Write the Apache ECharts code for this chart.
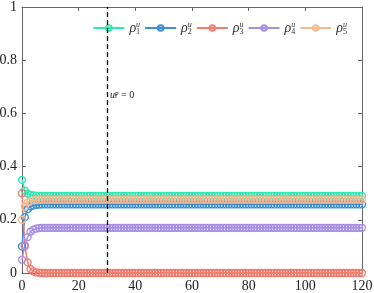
<!DOCTYPE html>
<html><head><meta charset="utf-8">
<script src="https://cdn.jsdelivr.net/npm/echarts@6/dist/echarts.min.js"></script>
<style>html,body{margin:0;padding:0;background:#fff}#c{width:374px;height:293px}</style>
</head><body><div id="c"></div>
<script>
const seriesNames = ['ρ1', 'ρ2', 'ρ3', 'ρ4', 'ρ5'];
const colors = ['#30e8b2', '#3a8fd8', '#f07d6e', '#a68fe4', '#f7b98e'];
const xTicks = [0, 20, 40, 60, 80, 100, 120];
const yTicks = [0, 0.2, 0.4, 0.6, 0.8, 1];
const switchStep = 30;

const rho1 = [
0.35,0.31,0.298,0.294,0.292,0.291,0.29,0.29,0.29,0.29,
0.29,0.29,0.29,0.29,0.29,0.29,0.29,0.29,0.29,0.29,
0.29,0.29,0.29,0.29,0.29,0.29,0.29,0.29,0.29,0.29,
0.29,0.29,0.29,0.29,0.29,0.29,0.29,0.29,0.29,0.29,
0.29,0.29,0.29,0.29,0.29,0.29,0.29,0.29,0.29,0.29,
0.29,0.29,0.29,0.29,0.29,0.29,0.29,0.29,0.29,0.29,
0.29,0.29,0.29,0.29,0.29,0.29,0.29,0.29,0.29,0.29,
0.29,0.29,0.29,0.29,0.29,0.29,0.29,0.29,0.29,0.29,
0.29,0.29,0.29,0.29,0.29,0.29,0.29,0.29,0.29,0.29,
0.29,0.29,0.29,0.29,0.29,0.29,0.29,0.29,0.29,0.29,
0.29,0.29,0.29,0.29,0.29,0.29,0.29,0.29,0.29,0.29,
0.29,0.29,0.29,0.29,0.29,0.29,0.29,0.29,0.29,0.29,
0.29];
const rho2 = [
0.10,0.21,0.24,0.25,0.254,0.256,0.257,0.258,0.258,0.258,
0.258,0.258,0.258,0.258,0.258,0.258,0.258,0.258,0.258,0.258,
0.258,0.258,0.258,0.258,0.258,0.258,0.258,0.258,0.258,0.258,
0.258,0.258,0.258,0.258,0.258,0.258,0.258,0.258,0.258,0.258,
0.258,0.258,0.258,0.258,0.258,0.258,0.258,0.258,0.258,0.258,
0.258,0.258,0.258,0.258,0.258,0.258,0.258,0.258,0.258,0.258,
0.258,0.258,0.258,0.258,0.258,0.258,0.258,0.258,0.258,0.258,
0.258,0.258,0.258,0.258,0.258,0.258,0.258,0.258,0.258,0.258,
0.258,0.258,0.258,0.258,0.258,0.258,0.258,0.258,0.258,0.258,
0.258,0.258,0.258,0.258,0.258,0.258,0.258,0.258,0.258,0.258,
0.258,0.258,0.258,0.258,0.258,0.258,0.258,0.258,0.258,0.258,
0.258,0.258,0.258,0.258,0.258,0.258,0.258,0.258,0.258,0.258,
0.258];
const rho3 = [
0.30,0.10,0.04,0.015,0.006,0.002,0.001,0,0,0,
0,0,0,0,0,0,0,0,0,0,
0,0,0,0,0,0,0,0,0,0,
0,0,0,0,0,0,0,0,0,0,
0,0,0,0,0,0,0,0,0,0,
0,0,0,0,0,0,0,0,0,0,
0,0,0,0,0,0,0,0,0,0,
0,0,0,0,0,0,0,0,0,0,
0,0,0,0,0,0,0,0,0,0,
0,0,0,0,0,0,0,0,0,0,
0,0,0,0,0,0,0,0,0,0,
0,0,0,0,0,0,0,0,0,0,
0];
const rho4 = [
0.05,0.105,0.135,0.155,0.163,0.167,0.169,0.17,0.17,0.17,
0.17,0.17,0.17,0.17,0.17,0.17,0.17,0.17,0.17,0.17,
0.17,0.17,0.17,0.17,0.17,0.17,0.17,0.17,0.17,0.17,
0.17,0.17,0.17,0.17,0.17,0.17,0.17,0.17,0.17,0.17,
0.17,0.17,0.17,0.17,0.17,0.17,0.17,0.17,0.17,0.17,
0.17,0.17,0.17,0.17,0.17,0.17,0.17,0.17,0.17,0.17,
0.17,0.17,0.17,0.17,0.17,0.17,0.17,0.17,0.17,0.17,
0.17,0.17,0.17,0.17,0.17,0.17,0.17,0.17,0.17,0.17,
0.17,0.17,0.17,0.17,0.17,0.17,0.17,0.17,0.17,0.17,
0.17,0.17,0.17,0.17,0.17,0.17,0.17,0.17,0.17,0.17,
0.17,0.17,0.17,0.17,0.17,0.17,0.17,0.17,0.17,0.17,
0.17,0.17,0.17,0.17,0.17,0.17,0.17,0.17,0.17,0.17,
0.17];
const rho5 = [
0.20,0.25,0.265,0.271,0.274,0.275,0.276,0.276,0.276,0.276,
0.276,0.276,0.276,0.276,0.276,0.276,0.276,0.276,0.276,0.276,
0.276,0.276,0.276,0.276,0.276,0.276,0.276,0.276,0.276,0.276,
0.276,0.276,0.276,0.276,0.276,0.276,0.276,0.276,0.276,0.276,
0.276,0.276,0.276,0.276,0.276,0.276,0.276,0.276,0.276,0.276,
0.276,0.276,0.276,0.276,0.276,0.276,0.276,0.276,0.276,0.276,
0.276,0.276,0.276,0.276,0.276,0.276,0.276,0.276,0.276,0.276,
0.276,0.276,0.276,0.276,0.276,0.276,0.276,0.276,0.276,0.276,
0.276,0.276,0.276,0.276,0.276,0.276,0.276,0.276,0.276,0.276,
0.276,0.276,0.276,0.276,0.276,0.276,0.276,0.276,0.276,0.276,
0.276,0.276,0.276,0.276,0.276,0.276,0.276,0.276,0.276,0.276,
0.276,0.276,0.276,0.276,0.276,0.276,0.276,0.276,0.276,0.276,
0.276];
const allData = [rho1, rho2, rho3, rho4, rho5];

const FONT = 'Liberation Serif';
const axisColor = '#666';
const chart = echarts.init(document.getElementById('c'), null, {renderer: 'canvas'});

function mkX(pos, labels) {
  return {
    type: 'value', position: pos, min: xTicks[0], max: xTicks[xTicks.length - 1],
    interval: xTicks[1] - xTicks[0],
    axisLine: {show: true, onZero: false, lineStyle: {color: axisColor, width: 1}},
    axisTick: {show: true, inside: true, length: 4, lineStyle: {color: axisColor}},
    axisLabel: {show: labels, margin: 6, fontFamily: FONT, fontSize: 14, color: '#222'},
    splitLine: {show: false}
  };
}
function mkY(pos, labels) {
  return {
    type: 'value', position: pos, min: yTicks[0], max: yTicks[yTicks.length - 1],
    interval: 0.2,
    axisLine: {show: true, onZero: false, lineStyle: {color: axisColor, width: 1}},
    axisTick: {show: true, inside: true, length: 4, lineStyle: {color: axisColor}},
    axisLabel: {show: labels, margin: 5, fontFamily: FONT, fontSize: 14, color: '#222',
      formatter: v => String(+v.toFixed(1))},
    splitLine: {show: false}
  };
}

const series = seriesNames.map((n, k) => ({
  name: n, type: 'line', xAxisIndex: 0, yAxisIndex: 0,
  data: allData[k].map((v, i) => [i, v]),
  symbol: 'circle', symbolSize: 7, showSymbol: true,
  color: colors[k],
  lineStyle: {color: colors[k], width: 1.5},
  itemStyle: {color: 'rgba(255,255,255,0)', borderColor: colors[k], borderWidth: 1.3},
  emphasis: {disabled: true},
  animation: false,
  z: 2
}));
series[0].markLine = {
  silent: true, symbol: 'none', animation: false,
  lineStyle: {color: '#111', type: [5, 3], width: 1.3},
  label: {show: false},
  data: [{xAxis: switchStep}]
};

chart.setOption({
  animation: false,
  grid: {left: 22, right: 12, top: 7, bottom: 20, containLabel: false, outerBoundsMode: 'none'},
  xAxis: [mkX('bottom', true), mkX('top', false)],
  yAxis: [mkY('left', true), mkY('right', false)],
  legend: {
    right: 22, top: 14, itemWidth: 31, itemHeight: 7, itemGap: 4,
    data: seriesNames,
    formatter: n => '{r|ρ}{b|' + n.slice(1) + '}{t|u}',
    textStyle: {
      padding: [0, 0, 0, 0],
      rich: {
        r: {fontFamily: FONT, fontStyle: 'italic', fontSize: 14, color: '#333', lineHeight: 18, verticalAlign: 'middle'},
        b: {fontFamily: FONT, fontSize: 8, color: '#333', lineHeight: 18, verticalAlign: 'bottom', padding: [0, 0, 1, 0], width: 0},
        t: {fontFamily: FONT, fontStyle: 'italic', fontSize: 8, color: '#333', lineHeight: 18, verticalAlign: 'top', padding: [2, 0, 0, 0]}
      }
    }
  },
  graphic: [{
    type: 'text', left: 110, top: 88, silent: true,
    style: {
      text: '{u|u}{i|i}{p|p}{e| = 0}',
      rich: {
        u: {fontFamily: FONT, fontStyle: 'italic', fontSize: 10, fill: '#222', lineHeight: 14, verticalAlign: 'middle'},
        i: {fontFamily: FONT, fontStyle: 'italic', fontSize: 7, fill: '#222', lineHeight: 14, verticalAlign: 'bottom', padding: [0, 0, 2, 0], width: 0},
        p: {fontFamily: FONT, fontStyle: 'italic', fontSize: 7, fill: '#222', lineHeight: 14, verticalAlign: 'top', padding: [2, 0, 0, 0]},
        e: {fontFamily: FONT, fontSize: 10, fill: '#222', lineHeight: 14, verticalAlign: 'middle'}
      }
    }
  }],
  series: series
});
</script></body></html>
